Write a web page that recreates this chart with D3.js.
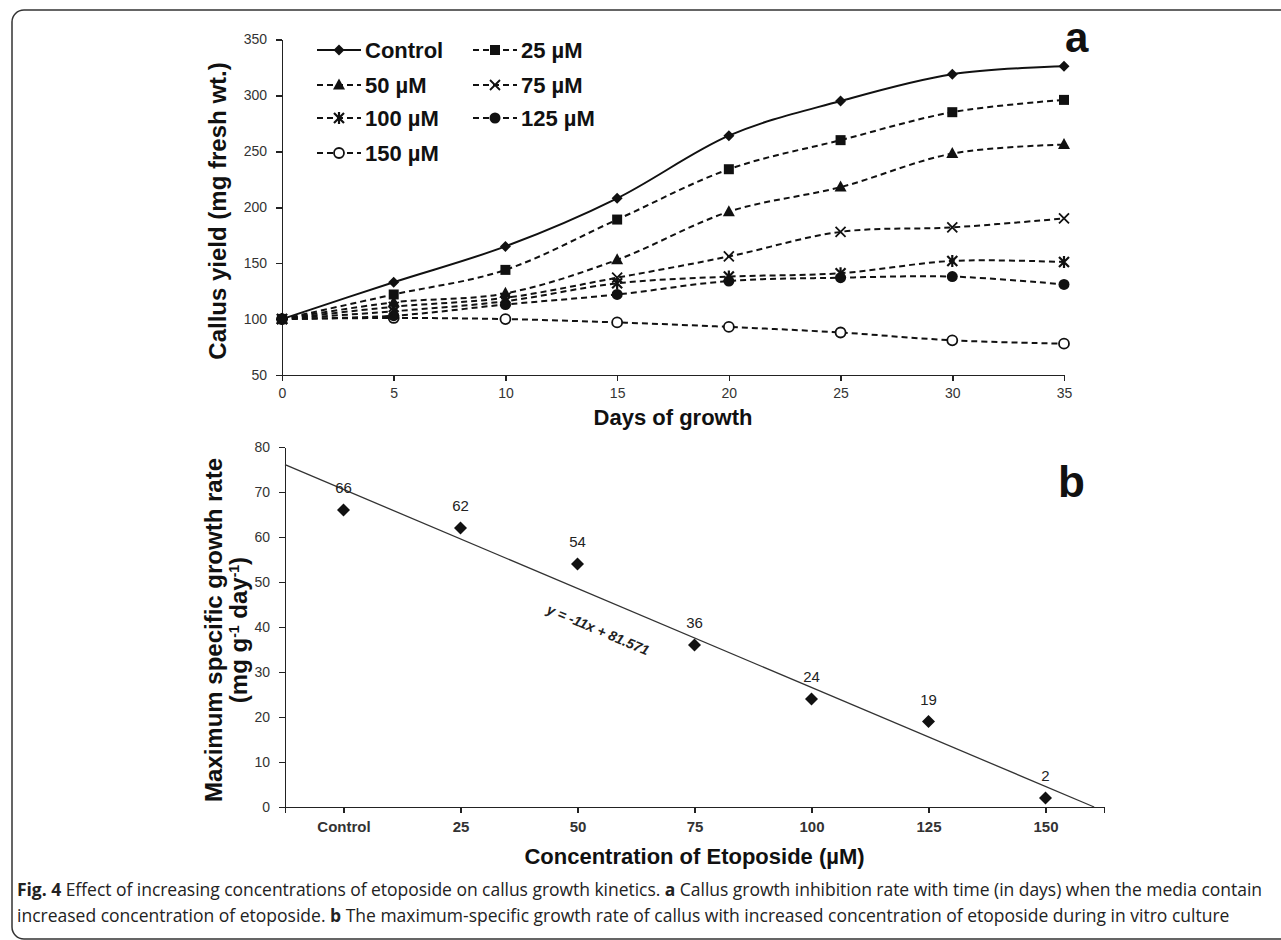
<!DOCTYPE html>
<html>
<head>
	<meta charset="utf-8">
	<style>
		body {
			margin: 0;
			background-color: white;
			font-family: "Liberation Sans", Arial, Helvetica, sans-serif;
		}
		svg {
			display: block;
		}
		.axis path,
		.axis line {
			stroke: #222;
			stroke-width: 1.5px;
			shape-rendering: crispEdges;
		}
		.axis text {
			fill: #333;
			font-family: "Liberation Sans", Arial, sans-serif;
			font-size: 14px;
		}
		.xb.axis text {
			font-size: 15px;
			font-weight: bold;
		}
		.axis-title {
			font-weight: bold;
			fill: #111;
		}
		.legend text {
			font-size: 22px;
			font-weight: bold;
			fill: #111;
		}
		.series {
			fill: none;
			stroke: #111;
			stroke-width: 2px;
		}
		.dashed {
			stroke-dasharray: 6, 4;
		}
		.panel-label {
			font-size: 42px;
			font-weight: bold;
			fill: #111;
		}
		.point-label {
			font-size: 15px;
			fill: #222;
		}
		.trend {
			stroke: #333;
			stroke-width: 1.3px;
			fill: none;
		}
		.trend-label {
			font-size: 14px;
			font-weight: bold;
			font-style: italic;
			fill: #222;
		}
		.caption {
			font-family: "Open Sans", sans-serif;
			font-size: 17.5px;
			fill: #222;
		}
		.caption .b {
			font-weight: bold;
		}
	</style>
</head>
<body>
<script src="https://d3js.org/d3.v7.min.js"></script>
<script>
	// panel a: callus yield over time
	var days = [0, 5, 10, 15, 20, 25, 30, 35];
	var control = [100, 133, 165, 208, 264, 295, 319, 326];
	var uM25 = [100, 122, 144, 189, 234, 260, 285, 296];
	var uM50 = [100, 115, 123, 153, 196, 218, 248, 256];
	var uM75 = [100, 111, 119, 137, 156, 178, 182, 190];
	var uM100 = [100, 107, 116, 132, 138, 141, 152, 151];
	var uM125 = [100, 103, 113, 122, 134, 137, 138, 131];
	var uM150 = [100, 101, 100, 97, 93, 88, 81, 78];
	var seriesNames = ["Control", "25 µM", "50 µM", "75 µM", "100 µM", "125 µM", "150 µM"];
	var seriesMarkers = ["diamond", "square", "triangle", "cross", "asterisk", "dot", "circle"];
	var yTicksA = [50, 100, 150, 200, 250, 300, 350];

	// panel b: max specific growth rate
	var concLabels = ["Control", "25", "50", "75", "100", "125", "150"];
	var growthRate = [66, 62, 54, 36, 24, 19, 2];
	var trendSlope = -11, trendIntercept = 81.571;
	var yTicksB = [0, 10, 20, 30, 40, 50, 60, 70, 80];

	var allSeries = [control, uM25, uM50, uM75, uM100, uM125, uM150];

	var svg = d3.select("body").append("svg")
		.attr("width", 1281)
		.attr("height", 940);

	// figure frame
	svg.append("rect")
		.attr("x", 12)
		.attr("y", 10)
		.attr("width", 1300)
		.attr("height", 929)
		.attr("rx", 12)
		.attr("fill", "none")
		.attr("stroke", "#333")
		.attr("stroke-width", 1.5);

	function marker(g, type, x, y) {
		var s = 5;
		if (type == "diamond") {
			g.append("path")
				.attr("d", "M" + x + "," + (y - 5.5) + "L" + (x + 5.5) + "," + y + "L" + x + "," + (y + 5.5) + "L" + (x - 5.5) + "," + y + "Z")
				.attr("fill", "#111");
		} else if (type == "square") {
			g.append("rect")
				.attr("x", x - s).attr("y", y - s)
				.attr("width", 2 * s).attr("height", 2 * s)
				.attr("fill", "#111");
		} else if (type == "triangle") {
			g.append("path")
				.attr("d", "M" + x + "," + (y - 6.5) + "L" + (x + 6) + "," + (y + 4.5) + "L" + (x - 6) + "," + (y + 4.5) + "Z")
				.attr("fill", "#111");
		} else if (type == "cross" || type == "asterisk") {
			var p = "M" + (x - s) + "," + (y - s) + "L" + (x + s) + "," + (y + s) + "M" + (x + s) + "," + (y - s) + "L" + (x - s) + "," + (y + s);
			if (type == "asterisk") p += "M" + x + "," + (y - s - 1) + "L" + x + "," + (y + s + 1);
			g.append("path")
				.attr("d", p)
				.attr("stroke", "#111")
				.attr("stroke-width", type == "asterisk" ? 2.2 : 1.8)
				.attr("fill", "none");
		} else if (type == "dot") {
			g.append("circle")
				.attr("cx", x).attr("cy", y).attr("r", 5.5)
				.attr("fill", "#111");
		} else if (type == "circle") {
			g.append("circle")
				.attr("cx", x).attr("cy", y).attr("r", 5)
				.attr("fill", "white")
				.attr("stroke", "#111")
				.attr("stroke-width", 1.8);
		}
	}

	// ---------- panel a ----------
	var xA = d3.scaleLinear().domain([0, 35]).range([282, 1064]);
	var yA = d3.scaleLinear().domain([50, 350]).range([375, 39.5]);

	svg.append("g")
		.attr("class", "x axis")
		.attr("transform", "translate(0," + yA(50) + ")")
		.call(d3.axisBottom(xA).tickValues(days).tickSize(6).tickPadding(7).tickSizeOuter(0));
	svg.append("g")
		.attr("class", "y axis")
		.attr("transform", "translate(" + xA(0) + ",0)")
		.call(d3.axisLeft(yA).tickValues(yTicksA).tickSize(6).tickPadding(9).tickSizeOuter(0));

	var line = d3.line()
		.x(function(d, i) { return xA(days[i]); })
		.y(function(d) { return yA(d); })
		.curve(d3.curveCatmullRom.alpha(0));

	// draw from bottom series up so the solid control line sits on top
	for (var k = allSeries.length - 1; k >= 0; k--) {
		var g = svg.append("g");
		g.append("path")
			.datum(allSeries[k])
			.attr("class", k == 0 ? "series" : "series dashed")
			.attr("d", line);
		allSeries[k].forEach(function(v, i) {
			marker(g, seriesMarkers[k], xA(days[i]), yA(v));
		});
	}

	svg.append("text")
		.attr("class", "axis-title")
		.attr("x", 673)
		.attr("y", 425)
		.attr("text-anchor", "middle")
		.style("font-size", "22px")
		.text("Days of growth");
	svg.append("text")
		.attr("class", "axis-title")
		.attr("transform", "translate(226," + 211 + ") rotate(-90)")
		.attr("text-anchor", "middle")
		.style("font-size", "24px")
		.text("Callus yield (mg fresh wt.)");

	// legend
	var legend = svg.append("g").attr("class", "legend");
	var legendCols = [317, 473], legendRows = [50, 85, 118, 153];
	seriesNames.forEach(function(name, k) {
		var lx = legendCols[k % 2], ly = legendRows[Math.floor(k / 2)];
		legend.append("line")
			.attr("class", k == 0 ? "series" : "series dashed")
			.attr("x1", lx).attr("x2", lx + 44)
			.attr("y1", ly).attr("y2", ly);
		marker(legend, seriesMarkers[k], lx + 22, ly);
		legend.append("text")
			.attr("x", lx + 48)
			.attr("y", ly)
			.attr("dy", "0.36em")
			.text(name);
	});

	svg.append("text")
		.attr("class", "panel-label")
		.attr("x", 1065)
		.attr("y", 52)
		.text("a");

	// ---------- panel b ----------
	var xB = d3.scaleLinear().domain([0.5, concLabels.length + 0.5]).range([285, 1104]);
	var yB = d3.scaleLinear().domain([0, 80]).range([807, 447]);
	var idx = concLabels.map(function(d, i) { return i + 1; });

	svg.append("g")
		.attr("class", "xb axis")
		.attr("transform", "translate(0," + yB(0) + ")")
		.call(d3.axisBottom(xB)
			.tickValues([0.5].concat(idx, [concLabels.length + 0.5]))
			.tickFormat(function(d) { return concLabels[d - 1] || ""; })
			.tickSize(6).tickPadding(8).tickSizeOuter(0));
	svg.append("g")
		.attr("class", "y axis")
		.attr("transform", "translate(" + xB(0.5) + ",0)")
		.call(d3.axisLeft(yB).tickValues(yTicksB).tickSize(6).tickPadding(9).tickSizeOuter(0));

	// trend line from the left axis down to y = 0
	var xEnd = -trendIntercept / trendSlope;
	svg.append("line")
		.attr("class", "trend")
		.attr("x1", xB(0.5)).attr("y1", yB(trendSlope * 0.5 + trendIntercept))
		.attr("x2", xB(xEnd)).attr("y2", yB(0));

	var angle = Math.atan2(yB(0) - yB(trendSlope * 0.5 + trendIntercept), xB(xEnd) - xB(0.5)) * 180 / Math.PI;
	var tAt = 3.276;
	svg.append("text")
		.attr("class", "trend-label")
		.attr("transform", "translate(" + xB(tAt) + "," + yB(trendSlope * tAt + trendIntercept) + ") rotate(" + angle + ")")
		.attr("y", 30)
		.attr("dy", "0.35em")
		.attr("text-anchor", "middle")
		.text("y = -11x + 81.571");

	var pts = svg.append("g");
	growthRate.forEach(function(v, i) {
		var px = xB(idx[i]), py = yB(v);
		pts.append("path")
			.attr("d", "M" + px + "," + (py - 6.5) + "L" + (px + 6.5) + "," + py + "L" + px + "," + (py + 6.5) + "L" + (px - 6.5) + "," + py + "Z")
			.attr("fill", "#111");
		pts.append("text")
			.attr("class", "point-label")
			.attr("x", px)
			.attr("y", py - 17)
			.attr("text-anchor", "middle")
			.text(v);
	});

	svg.append("text")
		.attr("class", "panel-label")
		.attr("x", 1058)
		.attr("y", 497)
		.style("font-size", "44px")
		.text("b");

	svg.append("text")
		.attr("class", "axis-title")
		.attr("x", (xB.range()[0] + xB.range()[1]) / 2)
		.attr("y", 864)
		.attr("text-anchor", "middle")
		.style("font-size", "22px")
		.text("Concentration of Etoposide (µM)");

	var yTitleB = svg.append("text")
		.attr("class", "axis-title")
		.attr("transform", "translate(222,630) rotate(-90)")
		.attr("text-anchor", "middle")
		.style("font-size", "24px");
	yTitleB.append("tspan")
		.attr("x", 0).attr("dy", 0)
		.text("Maximum specific growth rate");
	var l2 = yTitleB.append("tspan")
		.attr("x", 0).attr("dy", "1.05em")
		.text("(mg g");
	l2.append("tspan").attr("baseline-shift", "super").style("font-size", "14px").text("-1");
	l2.append("tspan").text(" day");
	l2.append("tspan").attr("baseline-shift", "super").style("font-size", "14px").text("-1");
	l2.append("tspan").text(")");

	// caption (first line justified to the full width)
	var cap = svg.append("g").attr("class", "caption");
	var c1 = cap.append("text").attr("x", 17).attr("y", 896)
		.attr("textLength", 1245)
		.attr("lengthAdjust", "spacing");
	c1.append("tspan").attr("class", "b").text("Fig. 4");
	c1.append("tspan").text(" Effect of increasing concentrations of etoposide on callus growth kinetics. ");
	c1.append("tspan").attr("class", "b").text("a");
	c1.append("tspan").text(" Callus growth inhibition rate with time (in days) when the media contain");
	var c2 = cap.append("text").attr("x", 17).attr("y", 922);
	c2.append("tspan").text("increased concentration of etoposide. ");
	c2.append("tspan").attr("class", "b").text("b");
	c2.append("tspan").text(" The maximum-specific growth rate of callus with increased concentration of etoposide during in vitro culture");
</script>
</body>
</html>
